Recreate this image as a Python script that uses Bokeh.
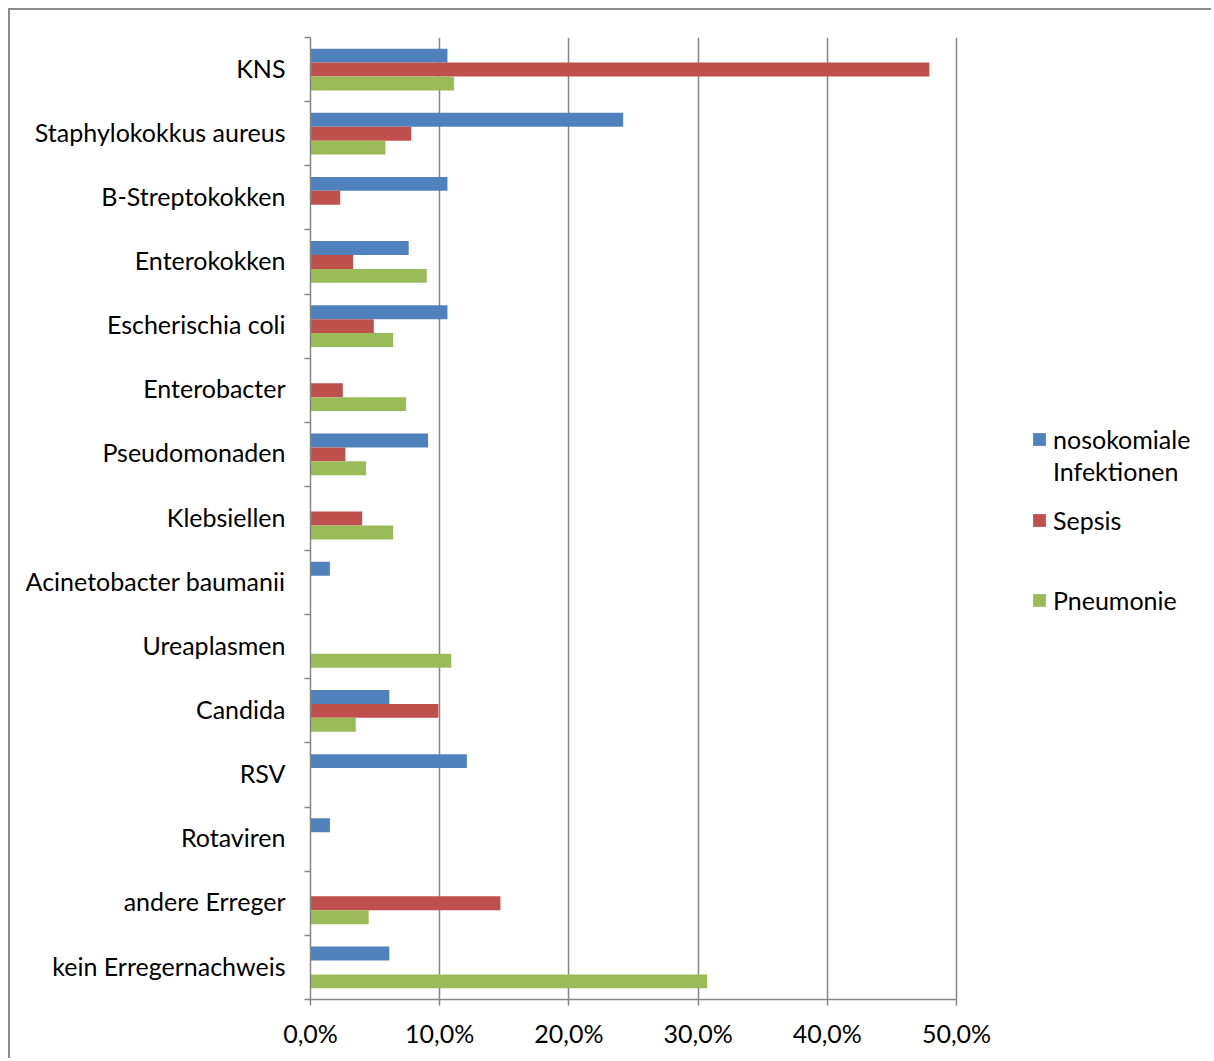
from bokeh.plotting import figure
from bokeh.models import (Range1d, FixedTicker, LinearAxis, Legend, LegendItem,
                          ColumnDataSource, Grid)
from bokeh.embed import file_html
from bokeh.resources import INLINE

categories = ["KNS", "Staphylokokkus aureus", "B-Streptokokken", "Enterokokken",
              "Escherischia coli", "Enterobacter", "Pseudomonaden", "Klebsiellen",
              "Acinetobacter baumanii", "Ureaplasmen", "Candida", "RSV", "Rotaviren",
              "andere Erreger", "kein Erregernachweis"]
series_names = ["nosokomiale Infektionen", "Sepsis", "Pneumonie"]
nosokomiale = [10.6, 24.2, 10.6, 7.6, 10.6, 0, 9.1, 0, 1.5, 0, 6.1, 12.1, 1.5, 0, 6.1]
sepsis = [47.9, 7.8, 2.3, 3.3, 4.9, 2.5, 2.7, 4.0, 0, 0, 9.9, 0, 0, 14.7, 0]
pneumonie = [11.1, 5.8, 0, 9.0, 6.4, 7.4, 4.3, 6.4, 0, 10.9, 3.5, 0, 0, 4.5, 30.7]
xticks = [0, 10, 20, 30, 40, 50]
xtick_labels = ["0,0%", "10,0%", "20,0%", "30,0%", "40,0%", "50,0%"]
colors = ["#4F81BD", "#C0504D", "#9BBB59"]

FONT = "Lato"
FS = "25px"
AXIS_COLOR = "#868686"

n = len(categories)
W, H = 1203, 1050
LEFT, TOP, BOTTOM = 300, 27, 61
frame_w = W - LEFT
axis_px = 646  # pixels spanned by 0..50 %
x_end = xticks[-1] * frame_w / axis_px

p = figure(width=W, height=H, x_range=Range1d(0, x_end), y_range=Range1d(0, n),
           output_backend="svg", toolbar_location=None,
           x_axis_location=None, y_axis_location=None,
           min_border_left=LEFT, min_border_right=0,
           min_border_top=TOP, min_border_bottom=BOTTOM)
p.grid.visible = False
p.outline_line_color = None
p.background_fill_color = "white"
p.border_fill_color = "white"
p.styles = {"margin-left": "8px", "margin-top": "8px",
            "border-left": "2px solid #8c8c8c", "border-top": "2px solid #8c8c8c"}

# vertical grid lines
p.add_layout(Grid(dimension=0, ticker=FixedTicker(ticks=xticks),
                  grid_line_color=AXIS_COLOR, grid_line_width=1.5))

# left axis: labels at category centres, tick marks between categories
centres = [n - i - 0.5 for i in range(n)]
label_pos = [c + 0.03 for c in centres]
boundaries = list(range(n + 1))
ax_labels = LinearAxis(ticker=FixedTicker(ticks=label_pos, minor_ticks=boundaries),
                       major_label_overrides={c: name for c, name in zip(label_pos, categories)},
                       major_label_standoff=19, major_tick_out=0, major_tick_in=0,
                       minor_tick_out=6, minor_tick_in=0,
                       axis_line_color=AXIS_COLOR, axis_line_width=1.5,
                       minor_tick_line_color=AXIS_COLOR, minor_tick_line_width=1.5,
                       major_tick_line_color=None,
                       major_label_text_font=FONT, major_label_text_font_size=FS,
                       major_label_text_color="black")
p.add_layout(ax_labels, "left")

# bottom axis
xax = LinearAxis(ticker=FixedTicker(ticks=xticks), bounds=(xticks[0], xticks[-1]),
                 major_label_overrides=dict(zip(xticks, xtick_labels)),
                 major_label_standoff=12, major_tick_out=6, major_tick_in=0,
                 minor_tick_out=0, minor_tick_in=0,
                 axis_line_color=AXIS_COLOR, axis_line_width=1.5,
                 major_tick_line_color=AXIS_COLOR, major_tick_line_width=1.5,
                 major_label_text_font=FONT, major_label_text_font_size=FS,
                 major_label_text_color="black")
p.add_layout(xax, "below")

bar_h = 0.217
offsets = [bar_h, 0.0, -bar_h]
renderers = []
for k, vals in enumerate([nosokomiale, sepsis, pneumonie]):
    src = ColumnDataSource(dict(y=[c + offsets[k] for c in centres], right=vals))
    r = p.hbar(y="y", left=0, right="right", height=bar_h, source=src,
               fill_color=colors[k], line_color=None)
    renderers.append(r)

dummy = p.hbar(y=[], left=[], right=[], height=bar_h, fill_alpha=0, line_alpha=0)

label_parts = series_names[0].split(" ")

def make_legend(items, vy):
    lg = Legend(items=items, location=(721, vy), orientation="vertical",
                padding=0, margin=0, spacing=0, border_line_color=None,
                background_fill_alpha=0, glyph_width=16, glyph_height=16,
                label_standoff=6, label_height=32,
                label_text_font=FONT, label_text_font_size=FS,
                label_text_color="black")
    p.add_layout(lg, "center")

make_legend([LegendItem(label=label_parts[0], renderers=[renderers[0]]),
             LegendItem(label=label_parts[1], renderers=[dummy])], 512)
make_legend([LegendItem(label=series_names[1], renderers=[renderers[1]])], 463)
make_legend([LegendItem(label=series_names[2], renderers=[renderers[2]])], 383)

open("out.html", "w").write(file_html(p, INLINE))
